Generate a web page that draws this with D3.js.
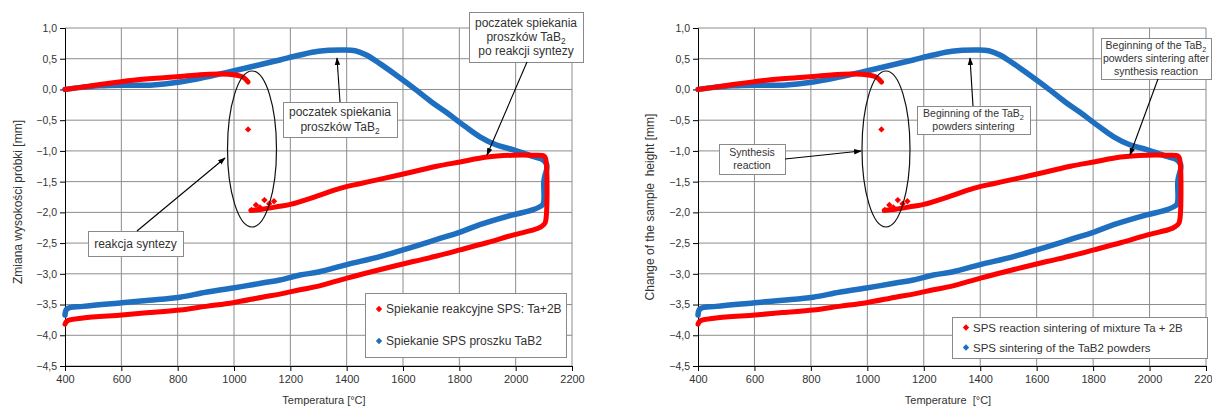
<!DOCTYPE html>
<meta charset="utf-8">
<style>
  body { margin: 0; background: #fff; }
  text { font-family: "Liberation Sans", Arial, sans-serif; fill: #333; }
</style>
<svg width="1212" height="409"></svg>
<script src="https://d3js.org/d3.v7.min.js"></script>
<script>
  var svg = d3.select("svg");

  // temperature ticks and height-change ticks
  var xTicks = [400, 600, 800, 1000, 1200, 1400, 1600, 1800, 2000, 2200];
  var yTicks = [1.0, 0.5, 0.0, -0.5, -1.0, -1.5, -2.0, -2.5, -3.0, -3.5, -4.0, -4.5];

  // reaction sintering Ta+2B: heating up to the synthesis reaction
  var redHeatT = [400, 450, 524, 642, 750, 808, 879, 950, 997, 1032, 1050];
  var redHeatV = [0.0, 0.03, 0.08, 0.15, 0.19, 0.21, 0.24, 0.25, 0.24, 0.2, 0.12];

  // isolated points during the reaction jump
  var redJumpT = [1050, 1062, 1078, 1092, 1108, 1125, 1142];
  var redJumpV = [-0.65, -1.96, -1.88, -1.92, -1.8, -1.86, -1.82];

  // after reaction: sintering, hold at 2100, cooling
  var redSinterT = [1060, 1100, 1163, 1200, 1305, 1376, 1450, 1520, 1636, 1720, 1803, 1898, 1990, 2060, 2100, 2106,
                    2106, 2100, 2080, 1990, 1900, 1803, 1720, 1636, 1520, 1401, 1300, 1234, 1163, 1100, 997, 900, 808, 700, 602, 464, 407, 400];
  var redSinterV = [-1.97, -1.95, -1.9, -1.87, -1.72, -1.61, -1.53, -1.46, -1.34, -1.25, -1.18, -1.1, -1.07, -1.07, -1.08, -1.12,
                    -2.15, -2.2, -2.26, -2.37, -2.49, -2.61, -2.71, -2.8, -2.93, -3.07, -3.2, -3.26, -3.33, -3.38, -3.47, -3.53, -3.59, -3.63, -3.67, -3.72, -3.77, -3.82];

  // SPS sintering of TaB2 powder
  var blueT = [400, 450, 524, 600, 702, 808, 900, 997, 1117, 1163, 1234, 1300, 1380, 1430, 1470, 1518, 1580, 1636, 1700, 1756, 1820, 1873, 1930, 1990, 2061, 2095, 2110, 2110, 2103, 2100,
               2100, 2095, 2060, 1990, 1873, 1803, 1720, 1636, 1518, 1401, 1300, 1234, 1163, 1100, 997, 900, 808, 700, 602, 464, 407, 400];
  var blueV = [0.0, 0.03, 0.06, 0.07, 0.07, 0.12, 0.2, 0.3, 0.43, 0.48, 0.56, 0.62, 0.64, 0.63, 0.56, 0.42, 0.22, 0.03, -0.2, -0.38, -0.6, -0.77, -0.9, -0.98, -1.09, -1.14, -1.22, -1.3, -1.42, -1.5,
               -1.82, -1.88, -1.96, -2.04, -2.2, -2.32, -2.44, -2.56, -2.72, -2.85, -2.97, -3.02, -3.1, -3.15, -3.23, -3.3, -3.38, -3.43, -3.47, -3.53, -3.57, -3.67];

  var red = "#ff0000", blue = "#1f6fc0";

  function zip(t, v) { return t.map(function(d, i) { return [d, v[i]]; }); }

  var panels = [
    {
      x0: 65, x1: 572,
      yTitle: "Zmiana wysokości próbki [mm]", yTitleX: 18, yTitleY: 202,
      xTitle: "Temperatura [°C]", xTitleX: 324,
      ellipse: {cx: 252, cy: 149, rx: 24.5, ry: 78},
      fs: 12,
      boxes: [
        {x: 283, y: 102, w: 114, h: 35, lines: [["poczatek spiekania"], ["proszków TaB", "2"]], ax: 340, ay: 102, tx: 337, ty: 58},
        {x: 469, y: 12, w: 114, h: 50, lines: [["poczatek spiekania"], ["proszków TaB", "2"], ["po reakcji syntezy"]], ax: 527, ay: 62, tx: 487, ty: 155},
        {x: 88, y: 231, w: 95, h: 25, lines: [["reakcja syntezy"]], ax: 137, ay: 231, tx: 225, ty: 158}
      ],
      legend: {x: 365, y: 293, w: 201, h: 64, fs: 12, gap: 32,
               items: ["Spiekanie reakcyjne SPS: Ta+2B", "Spiekanie SPS proszku TaB2"]}
    },
    {
      x0: 698, x1: 1206,
      yTitle: "Change of the sample  height [mm]", yTitleX: 650, yTitleY: 207,
      xTitle: "Temperature  [°C]", xTitleX: 948,
      ellipse: {cx: 886, cy: 149, rx: 24, ry: 78},
      fs: 10.5,
      boxes: [
        {x: 719, y: 144, w: 66, h: 30, lines: [["Synthesis"], ["reaction"]], ax: 785, ay: 159, tx: 861, ty: 151},
        {x: 917, y: 106, w: 113, h: 28, lines: [["Beginning of the TaB", "2"], ["powders sintering"]], ax: 973, ay: 106, tx: 970, ty: 58},
        {x: 1101, y: 38, w: 110, h: 41, lines: [["Beginning of the TaB", "2"], ["powders sintering after"], ["synthesis reaction"]], ax: 1158, ay: 79, tx: 1130, ty: 155}
      ],
      legend: {x: 952, y: 317, w: 255, h: 41, fs: 11.5, gap: 20,
               items: ["SPS reaction sintering of mixture Ta + 2B", "SPS sintering of the TaB2 powders"]}
    }
  ];

  svg.append("defs").append("marker")
      .attr("id", "arrow")
      .attr("viewBox", "0 0 10 10")
      .attr("refX", 9).attr("refY", 5)
      .attr("markerWidth", 7).attr("markerHeight", 7)
      .attr("orient", "auto")
    .append("path")
      .attr("d", "M0,1.5 L10,5 L0,8.5 Z")
      .attr("fill", "#000");

  var comma = function(d) { return d3.format(".1f")(d).replace(".", ","); };
  var diamond = d3.symbol().type(d3.symbolDiamond2).size(26);

  panels.forEach(function(p) {
    var x = d3.scaleLinear().domain([400, 2200]).range([p.x0, p.x1]);
    var y = d3.scaleLinear().domain([-4.5, 1]).range([366, 28]);
    var g = svg.append("g");

    // grid
    g.append("g").selectAll("line").data(xTicks.slice(1)).enter().append("line")
        .attr("x1", function(d) { return x(d); }).attr("x2", function(d) { return x(d); })
        .attr("y1", y(1)).attr("y2", y(-4.5))
        .attr("stroke", "#8c8c8c").attr("stroke-width", 1);
    g.append("g").selectAll("line").data(yTicks).enter().append("line")
        .attr("x1", x(400)).attr("x2", x(2200))
        .attr("y1", function(d) { return y(d); }).attr("y2", function(d) { return y(d); })
        .attr("stroke", "#8c8c8c").attr("stroke-width", 1);

    // axes
    var ax = g.append("g")
        .attr("transform", "translate(" + x(400) + ",0)")
        .call(d3.axisLeft(y).tickValues(yTicks).tickFormat(comma).tickSize(5).tickPadding(3));
    ax.selectAll("text").style("font-size", "10.5px").attr("fill", "#333");
    var bx = g.append("g")
        .attr("transform", "translate(0," + y(-4.5) + ")")
        .call(d3.axisBottom(x).tickValues(xTicks).tickFormat(d3.format("d")).tickSize(5).tickPadding(4));
    bx.selectAll("text").style("font-size", "11px").attr("fill", "#333");
    g.selectAll(".domain, .tick line").attr("stroke", "#000");

    // series
    var line = d3.line()
        .curve(d3.curveCatmullRom.alpha(0.5))
        .x(function(d) { return x(d[0]); })
        .y(function(d) { return y(d[1]); });

    g.append("path").datum(zip(blueT, blueV))
        .attr("fill", "none").attr("stroke", blue).attr("stroke-width", 5.5)
        .attr("stroke-linejoin", "round").attr("stroke-linecap", "round")
        .attr("d", line);
    g.append("path").datum(zip(redHeatT, redHeatV))
        .attr("fill", "none").attr("stroke", red).attr("stroke-width", 5)
        .attr("stroke-linejoin", "round").attr("stroke-linecap", "round")
        .attr("d", line);
    g.append("path").datum(zip(redSinterT, redSinterV))
        .attr("fill", "none").attr("stroke", red).attr("stroke-width", 5)
        .attr("stroke-linejoin", "round").attr("stroke-linecap", "round")
        .attr("d", line);
    g.append("g").selectAll("path").data(zip(redJumpT, redJumpV)).enter().append("path")
        .attr("transform", function(d) { return "translate(" + x(d[0]) + "," + y(d[1]) + ")"; })
        .attr("d", diamond)
        .attr("fill", red);

    // ellipse around the reaction
    g.append("ellipse")
        .attr("cx", p.ellipse.cx).attr("cy", p.ellipse.cy)
        .attr("rx", p.ellipse.rx).attr("ry", p.ellipse.ry)
        .attr("fill", "none").attr("stroke", "#111").attr("stroke-width", 1.2);

    // callouts
    p.boxes.forEach(function(b) {
      g.append("rect")
          .attr("x", b.x + 0.5).attr("y", b.y + 0.5).attr("width", b.w).attr("height", b.h)
          .attr("fill", "#fff").attr("stroke", "#8a8a8a");
      var lh = p.fs * 1.2;
      var top = b.y + b.h / 2 - (b.lines.length * lh) / 2 + lh * 0.78;
      b.lines.forEach(function(l, i) {
        var t = g.append("text")
            .attr("x", b.x + b.w / 2).attr("y", top + i * lh)
            .attr("text-anchor", "middle").style("font-size", p.fs + "px");
        t.append("tspan").text(l[0]);
        if (l[1]) t.append("tspan").attr("dy", 3).style("font-size", (p.fs * 0.7) + "px").text(l[1]);
      });
      g.append("line")
          .attr("x1", b.ax).attr("y1", b.ay).attr("x2", b.tx).attr("y2", b.ty)
          .attr("stroke", "#000").attr("stroke-width", 1.1)
          .attr("marker-end", "url(#arrow)");
    });

    // legend
    var L = p.legend;
    g.append("rect")
        .attr("x", L.x + 0.5).attr("y", L.y + 0.5).attr("width", L.w).attr("height", L.h)
        .attr("fill", "#fff").attr("stroke", "#8a8a8a");
    [red, blue].forEach(function(c, i) {
      var cy = L.y + L.h / 2 - L.gap / 2 + i * L.gap;
      g.append("path")
          .attr("transform", "translate(" + (L.x + 14) + "," + cy + ")")
          .attr("d", diamond)
          .attr("fill", c);
      g.append("text")
          .attr("x", L.x + 21).attr("y", cy + L.fs * 0.36)
          .style("font-size", L.fs + "px")
          .text(L.items[i]);
    });

    // axis titles
    g.append("text")
        .attr("transform", "translate(" + p.yTitleX + "," + p.yTitleY + ") rotate(-90)")
        .attr("text-anchor", "middle").attr("dy", "0.35em")
        .style("font-size", "12px").style("white-space", "pre")
        .text(p.yTitle);
    g.append("text")
        .attr("x", p.xTitleX).attr("y", 404)
        .attr("text-anchor", "middle")
        .style("font-size", "11px").style("white-space", "pre")
        .text(p.xTitle);
  });
</script>
